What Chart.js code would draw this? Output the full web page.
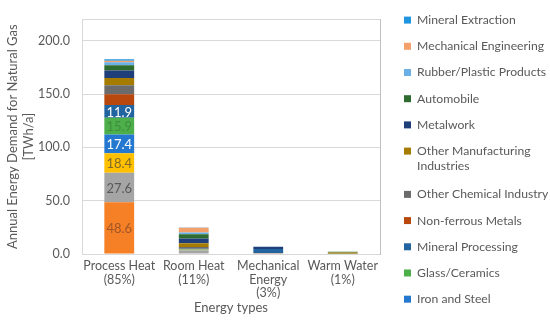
<!DOCTYPE html>
<html>
<head>
<meta charset="utf-8">
<script src="https://cdn.jsdelivr.net/npm/chart.js@4.4.0/dist/chart.umd.min.js"></script>
<style>
  html, body { margin: 0; padding: 0; background: #fff; }
  #wrap { width: 550px; height: 334px; position: relative; }
</style>
</head>
<body>
<div id="wrap"><canvas id="chartjs_bar"></canvas></div>
<script>
'use strict';

// categories on the x axis
var categories = [
    ['Process Heat', '(85%)'],
    ['Room Heat', '(11%)'],
    ['Mechanical', 'Energy', '(3%)'],
    ['Warm Water', '(1%)']
];

// series, bottom of the stack first (the first three are cut off in the legend)
var seriesNames = [
    'Basic Chemicals', 'Food and Tobacco', 'Paper Industry',
    'Iron and Steel', 'Glass/Ceramics', 'Mineral Processing',
    'Non-ferrous Metals', 'Other Chemical Industry', 'Other Manufacturing Industries',
    'Metalwork', 'Automobile', 'Rubber/Plastic Products',
    'Mechanical Engineering', 'Mineral Extraction'
];

// TWh/a per series, one array per energy type
var processHeat      = [48.6, 27.6, 18.4, 17.4, 15.9, 11.9, 10.0, 8.5, 6.8, 7.0, 5.0, 2.8, 1.5, 1.3];
var roomHeat         = [0.0, 3.5, 0.5, 0.3, 0.3, 0.5, 0.5, 1.0, 3.5, 4.5, 4.0, 1.5, 4.5, 0.2];
var mechanicalEnergy = [0.8, 0.0, 0.0, 0.0, 0.0, 4.0, 0.0, 0.0, 0.0, 2.0, 0.0, 0.0, 0.0, 0.0];
var warmWater        = [0.0, 0.3, 0.0, 0.0, 0.0, 0.0, 0.0, 0.0, 1.2, 0.0, 0.5, 0.0, 0.0, 0.0];

var yTicks = [0, 50, 100, 150, 200];

var seriesColors = [
    '#F58025', '#A5A5A5', '#FFC000',
    '#2478D0', '#4DAF4A', '#22649F',
    '#B9480F', '#6B6B6B', '#A67C00',
    '#1F3F7A', '#2E6B2E', '#6AAFE6',
    '#F4A06A', '#2196E0'
];
// value label colours for the bottom series of the Process Heat bar
var labelColors = ['#A0562A', '#595959', '#7F6A2A', '#FFFFFF', '#3E8E3E', '#FFFFFF'];

var textGray = '#595959';
var lineGray = '#D9D9D9';

var datasets = seriesNames.map(function (name, i) {
    return {
        label: name,
        data: [processHeat[i], roomHeat[i], mechanicalEnergy[i], warmWater[i]],
        backgroundColor: seriesColors[i],
        borderWidth: 0,
        barPercentage: 0.4,
        categoryPercentage: 1.0
    };
});

// numbers inside the lower Process Heat segments
var barLabels = {
    id: 'barLabels',
    afterDatasetsDraw: function (chart) {
        var ctx = chart.ctx;
        ctx.save();
        ctx.font = '13px Lato, "Open Sans", sans-serif';
        ctx.textAlign = 'center';
        ctx.textBaseline = 'middle';
        labelColors.forEach(function (color, i) {
            var bar = chart.getDatasetMeta(i).data[0];
            ctx.fillStyle = color;
            ctx.fillText(processHeat[i].toFixed(1), bar.x, (bar.y + bar.base) / 2 + 1);
        });
        ctx.restore();
    }
};

Chart.defaults.font.family = 'Lato, "Open Sans", sans-serif';
Chart.defaults.color = textGray;

var chartjs_bar = document.getElementById('chartjs_bar');
var ctx = chartjs_bar.getContext('2d');
var myBar = new Chart(ctx, {
    type: 'bar',
    data: { labels: categories, datasets: datasets },
    plugins: [barLabels],
    options: {
        responsive: true,
        maintainAspectRatio: false,
        animation: false,
        layout: { padding: 0 },
        plugins: {
            tooltip: { enabled: false },
            legend: {
                position: 'right',
                align: 'start',
                reverse: true,
                maxWidth: 160,
                labels: {
                    boxWidth: 7,
                    boxHeight: 7,
                    padding: 14,
                    color: textGray,
                    font: { size: 12.2 },
                    generateLabels: function (chart) {
                        var items = Chart.defaults.plugins.legend.labels.generateLabels(chart);
                        items.forEach(function (it) {
                            if (it.text === 'Other Manufacturing Industries') {
                                it.text = ['Other Manufacturing', 'Industries'];
                            }
                        });
                        return items;
                    },
                    filter: function (item) { return item.datasetIndex >= 3; }
                }
            }
        },
        scales: {
            x: {
                stacked: true,
                grid: { display: false },
                border: { color: lineGray },
                ticks: { color: textGray, font: { size: 12.5, lineHeight: 1.1 }, padding: -3, maxRotation: 0, autoSkip: false },
                title: { display: true, text: 'Energy types', color: textGray, font: { size: 13 }, padding: { top: 2, bottom: 18 } },
                afterFit: function (s) { s.height = 80; }
            },
            xTop: {
                position: 'top',
                grid: { display: false },
                border: { color: lineGray },
                ticks: { display: false },
                afterFit: function (s) { s.height = 10; }
            },
            y: {
                stacked: true,
                min: 0,
                max: 220,
                grid: { color: lineGray, drawTicks: false },
                border: { color: lineGray },
                ticks: {
                    color: textGray,
                    font: { size: 12.5 },
                    padding: 12,
                    callback: function (v) { return v.toFixed(1); }
                },
                afterBuildTicks: function (s) {
                    s.ticks = yTicks.map(function (v) { return { value: v }; });
                },
                title: {
                    display: true,
                    text: ['Annual Energy Demand for Natural Gas', '[TWh/a]'],
                    color: textGray,
                    font: { size: 13, lineHeight: 1.2 },
                    padding: { top: 5, bottom: 4 }
                },
                afterFit: function (s) { s.width = 82; }
            },
            yRight: {
                position: 'right',
                grid: { display: false },
                border: { color: '#BFBFBF' },
                ticks: { display: false },
                afterFit: function (s) { s.width = 10; }
            }
        }
    }
});
</script>
</body>
</html>
